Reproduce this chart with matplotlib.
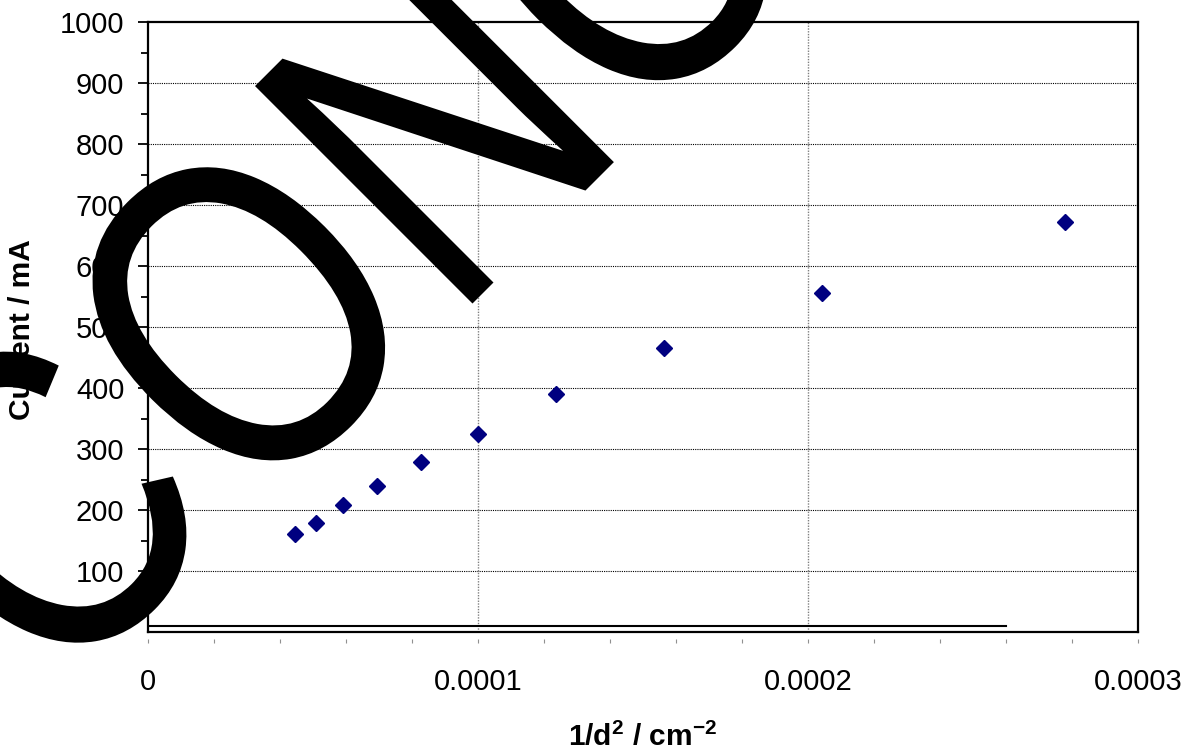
import numpy as np
import matplotlib
matplotlib.use('Agg')
import matplotlib.pyplot as plt
from matplotlib.ticker import MultipleLocator, FixedLocator
from matplotlib.textpath import TextPath
from matplotlib.patches import PathPatch
from matplotlib.font_manager import FontProperties
from matplotlib.transforms import Affine2D

plt.rcParams['font.family'] = ['Liberation Sans', 'DejaVu Sans']
plt.rcParams['mathtext.fontset'] = 'custom'
plt.rcParams['mathtext.rm'] = 'Liberation Sans'
plt.rcParams['mathtext.bf'] = 'Liberation Sans:bold'

# data
inv_d2 = [0.0000444, 0.0000510, 0.0000592, 0.0000694, 0.0000826,
          0.0001000, 0.0001235, 0.0001563, 0.0002041, 0.0002778]
current = [161, 179, 208, 239, 279, 325, 390, 466, 556, 672]
base_x = [0, 0.00026]
base_y = [10, 10]
x_ticks = [0, 0.0001, 0.0002, 0.0003]
x_tick_labels = ['0', '0.0001', '0.0002', '0.0003']
y_ticks = [100, 200, 300, 400, 500, 600, 700, 800, 900, 1000]

W, H = 1194, 753
fig = plt.figure(figsize=(W / 100, H / 100), dpi=100)
ax = fig.add_axes([148 / W, (H - 632) / H, 990 / W, 610 / H])

ax.plot(base_x, base_y, color='black', lw=1.5, zorder=3)
ax.plot(inv_d2, current, linestyle='none', marker='D', ms=8,
        color='#000080', zorder=4)

ax.set_xlim(0, 0.0003)
ax.set_ylim(0, 1000)

# gridlines
for y in y_ticks[:-1]:
    ax.axhline(y, color='black', lw=0.8, ls=(0, (1, 1)), zorder=1)
for x in x_ticks[1:-1]:
    ax.axvline(x, color='#808080', lw=1.0, ls=(0, (1, 1)), zorder=1)

# frame
for s in ['top', 'left', 'right']:
    ax.spines[s].set_linewidth(1.6)
ax.spines['bottom'].set_visible(False)
ax.spines['bottom'].set_position(('outward', 5))
ax.axhline(0, color='black', lw=1.6, clip_on=False, zorder=5)

# y axis
ax.yaxis.set_major_locator(FixedLocator(y_ticks))
ax.yaxis.set_minor_locator(FixedLocator(np.arange(50, 1000, 100)))
ax.tick_params(axis='y', which='major', length=7, width=1.3, pad=10,
               labelsize=21, direction='out')
ax.tick_params(axis='y', which='minor', length=5, width=1.3, direction='out')

# x axis
ax.set_xticks(x_ticks)
ax.set_xticklabels(x_tick_labels)
ax.xaxis.set_minor_locator(MultipleLocator(0.00002))
ax.tick_params(axis='x', which='both', length=3, width=0.8, color='#909090',
               direction='out', pad=18, labelsize=21)

ax.set_xlabel(r'1/d$^{\mathbf{2}}$ / cm$^{\mathbf{-2}}$', fontsize=21.5,
              fontweight='bold', va='center')
ax.xaxis.set_label_coords(0.5, -0.172)
ax.set_ylabel('Current / mA', fontsize=21.5, fontweight='bold', va='center')
ax.yaxis.set_label_coords(-0.127, 0.495)

# big black lettering drawn over the chart
fp = FontProperties(family='Liberation Sans')
letters = ['C', 'O', 'N', 'C']
pen = [0, 0.722, 1.5, 2.222]
nudge = [(-18, 0), (-5, 0), (0, 0), (0, 0)]
for ch, p, (dx, dy) in zip(letters, pen, nudge):
    tp = TextPath((p, 0), ch, size=1, prop=fp)
    tf = (Affine2D().scale(358, 447).rotate_deg(45)
          .translate(72 + dx, H - 704 - dy))
    fig.add_artist(PathPatch(tp, transform=tf, facecolor='black',
                             edgecolor='none', zorder=20))

fig.savefig('out.png', dpi=100)
